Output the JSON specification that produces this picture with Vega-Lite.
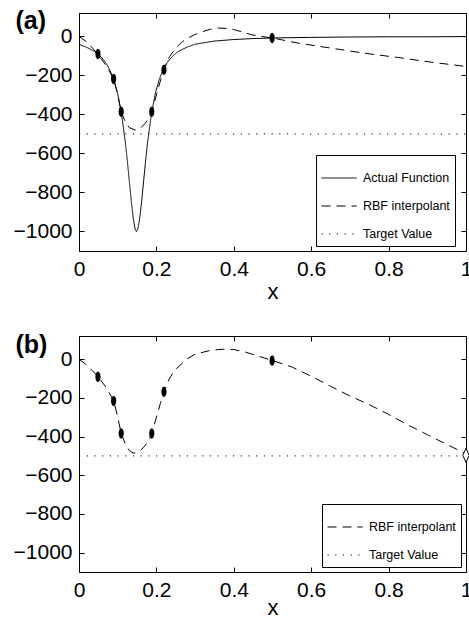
{
  "$schema": "https://vega.github.io/schema/vega-lite/v6.json",
  "padding": {"left": 13, "top": 8, "right": 0, "bottom": 0},
  "spacing": 30,
  "config": {
    "font": "Liberation Sans",
    "view": {"stroke": null},
    "axis": {
      "domainColor": "black", "domainWidth": 1, "tickColor": "black", "tickWidth": 1,
      "tickSize": -5, "labelPadding": 12, "labelFontSize": 21, "labelColor": "black",
      "labelFont": "Liberation Sans", "grid": false, "labelFlush": false, "labelOverlap": false,
      "titleColor": "black", "titleFont": "Liberation Sans"
    },
    "legend": {
      "title": null, "orient": "none", "symbolType": "stroke", "symbolSize": 1225,
      "symbolStrokeWidth": 1, "symbolStrokeColor": "black", "labelFontSize": 12.5,
      "labelColor": "black", "labelFont": "Liberation Sans", "strokeColor": "black",
      "fillColor": "white", "padding": 5, "rowPadding": 3, "labelOffset": 6, "cornerRadius": 0
    }
  },
  "resolve": {"scale": {"x": "independent", "y": "independent", "strokeDash": "independent"}, "legend": {"strokeDash": "independent"}},
  "datasets": {
    "a_lines": [
      {"series": "Actual Function", "x": 0, "y": -41}, {"series": "Actual Function", "x": 0.02, "y": -56},
      {"series": "Actual Function", "x": 0.04, "y": -77}, {"series": "Actual Function", "x": 0.05, "y": -92},
      {"series": "Actual Function", "x": 0.06, "y": -111}, {"series": "Actual Function", "x": 0.07, "y": -137},
      {"series": "Actual Function", "x": 0.08, "y": -173}, {"series": "Actual Function", "x": 0.09, "y": -223},
      {"series": "Actual Function", "x": 0.1, "y": -294}, {"series": "Actual Function", "x": 0.11, "y": -398},
      {"series": "Actual Function", "x": 0.12, "y": -547}, {"series": "Actual Function", "x": 0.125, "y": -640},
      {"series": "Actual Function", "x": 0.13, "y": -741}, {"series": "Actual Function", "x": 0.135, "y": -843},
      {"series": "Actual Function", "x": 0.14, "y": -931}, {"series": "Actual Function", "x": 0.145, "y": -988},
      {"series": "Actual Function", "x": 0.1485, "y": -1000}, {"series": "Actual Function", "x": 0.152, "y": -988},
      {"series": "Actual Function", "x": 0.157, "y": -931}, {"series": "Actual Function", "x": 0.162, "y": -843},
      {"series": "Actual Function", "x": 0.167, "y": -741}, {"series": "Actual Function", "x": 0.172, "y": -640},
      {"series": "Actual Function", "x": 0.177, "y": -547}, {"series": "Actual Function", "x": 0.187, "y": -398},
      {"series": "Actual Function", "x": 0.197, "y": -294}, {"series": "Actual Function", "x": 0.207, "y": -223},
      {"series": "Actual Function", "x": 0.217, "y": -173}, {"series": "Actual Function", "x": 0.227, "y": -137},
      {"series": "Actual Function", "x": 0.237, "y": -111}, {"series": "Actual Function", "x": 0.247, "y": -92},
      {"series": "Actual Function", "x": 0.257, "y": -77}, {"series": "Actual Function", "x": 0.28, "y": -54},
      {"series": "Actual Function", "x": 0.3, "y": -40}, {"series": "Actual Function", "x": 0.35, "y": -24},
      {"series": "Actual Function", "x": 0.4, "y": -16}, {"series": "Actual Function", "x": 0.45, "y": -11},
      {"series": "Actual Function", "x": 0.5, "y": -8}, {"series": "Actual Function", "x": 0.6, "y": -5},
      {"series": "Actual Function", "x": 0.7, "y": -3}, {"series": "Actual Function", "x": 0.8, "y": -2},
      {"series": "Actual Function", "x": 0.9, "y": -2}, {"series": "Actual Function", "x": 1, "y": -1},
      {"series": "RBF interpolant", "x": 0, "y": 0}, {"series": "RBF interpolant", "x": 0.02, "y": -28},
      {"series": "RBF interpolant", "x": 0.035, "y": -60}, {"series": "RBF interpolant", "x": 0.049, "y": -91},
      {"series": "RBF interpolant", "x": 0.07, "y": -150}, {"series": "RBF interpolant", "x": 0.09, "y": -219},
      {"series": "RBF interpolant", "x": 0.1, "y": -300}, {"series": "RBF interpolant", "x": 0.109, "y": -386},
      {"series": "RBF interpolant", "x": 0.12, "y": -440}, {"series": "RBF interpolant", "x": 0.13, "y": -468},
      {"series": "RBF interpolant", "x": 0.145, "y": -480}, {"series": "RBF interpolant", "x": 0.16, "y": -468},
      {"series": "RBF interpolant", "x": 0.17, "y": -448}, {"series": "RBF interpolant", "x": 0.18, "y": -420},
      {"series": "RBF interpolant", "x": 0.188, "y": -386}, {"series": "RBF interpolant", "x": 0.2, "y": -300},
      {"series": "RBF interpolant", "x": 0.21, "y": -230}, {"series": "RBF interpolant", "x": 0.2195, "y": -171},
      {"series": "RBF interpolant", "x": 0.234, "y": -103}, {"series": "RBF interpolant", "x": 0.25, "y": -60},
      {"series": "RBF interpolant", "x": 0.265, "y": -30}, {"series": "RBF interpolant", "x": 0.28, "y": -10},
      {"series": "RBF interpolant", "x": 0.3, "y": 10}, {"series": "RBF interpolant", "x": 0.32, "y": 25},
      {"series": "RBF interpolant", "x": 0.34, "y": 37}, {"series": "RBF interpolant", "x": 0.36, "y": 43},
      {"series": "RBF interpolant", "x": 0.38, "y": 41}, {"series": "RBF interpolant", "x": 0.4, "y": 35},
      {"series": "RBF interpolant", "x": 0.42, "y": 24}, {"series": "RBF interpolant", "x": 0.445, "y": 9},
      {"series": "RBF interpolant", "x": 0.47, "y": 0}, {"series": "RBF interpolant", "x": 0.5, "y": -8},
      {"series": "RBF interpolant", "x": 0.565, "y": -34}, {"series": "RBF interpolant", "x": 0.651, "y": -60},
      {"series": "RBF interpolant", "x": 0.737, "y": -86}, {"series": "RBF interpolant", "x": 0.824, "y": -108},
      {"series": "RBF interpolant", "x": 0.91, "y": -132}, {"series": "RBF interpolant", "x": 1, "y": -154},
      {"series": "Target Value", "x": 0, "y": -500}, {"series": "Target Value", "x": 1, "y": -500}
    ],
    "a_pts": [
      {"x": 0.049, "y": -90}, {"x": 0.0895, "y": -218}, {"x": 0.109, "y": -386},
      {"x": 0.188, "y": -386}, {"x": 0.2195, "y": -171}, {"x": 0.499, "y": -8}
    ],
    "b_lines": [
      {"series": "RBF interpolant", "x": 0, "y": 0}, {"series": "RBF interpolant", "x": 0.02, "y": -30},
      {"series": "RBF interpolant", "x": 0.035, "y": -60}, {"series": "RBF interpolant", "x": 0.049, "y": -90},
      {"series": "RBF interpolant", "x": 0.07, "y": -145}, {"series": "RBF interpolant", "x": 0.09, "y": -216},
      {"series": "RBF interpolant", "x": 0.1, "y": -300}, {"series": "RBF interpolant", "x": 0.109, "y": -383},
      {"series": "RBF interpolant", "x": 0.12, "y": -440}, {"series": "RBF interpolant", "x": 0.13, "y": -472},
      {"series": "RBF interpolant", "x": 0.14, "y": -485}, {"series": "RBF interpolant", "x": 0.15, "y": -483},
      {"series": "RBF interpolant", "x": 0.16, "y": -470}, {"series": "RBF interpolant", "x": 0.17, "y": -448},
      {"series": "RBF interpolant", "x": 0.18, "y": -420}, {"series": "RBF interpolant", "x": 0.188, "y": -383},
      {"series": "RBF interpolant", "x": 0.2, "y": -300}, {"series": "RBF interpolant", "x": 0.21, "y": -230},
      {"series": "RBF interpolant", "x": 0.2195, "y": -167}, {"series": "RBF interpolant", "x": 0.233, "y": -103},
      {"series": "RBF interpolant", "x": 0.246, "y": -60}, {"series": "RBF interpolant", "x": 0.264, "y": -26},
      {"series": "RBF interpolant", "x": 0.28, "y": 3}, {"series": "RBF interpolant", "x": 0.3, "y": 26},
      {"series": "RBF interpolant", "x": 0.334, "y": 43}, {"series": "RBF interpolant", "x": 0.36, "y": 50},
      {"series": "RBF interpolant", "x": 0.38, "y": 52}, {"series": "RBF interpolant", "x": 0.4, "y": 50},
      {"series": "RBF interpolant", "x": 0.43, "y": 37}, {"series": "RBF interpolant", "x": 0.46, "y": 18},
      {"series": "RBF interpolant", "x": 0.5, "y": -7}, {"series": "RBF interpolant", "x": 0.55, "y": -40},
      {"series": "RBF interpolant", "x": 0.6, "y": -88}, {"series": "RBF interpolant", "x": 0.65, "y": -140},
      {"series": "RBF interpolant", "x": 0.7, "y": -190}, {"series": "RBF interpolant", "x": 0.75, "y": -235},
      {"series": "RBF interpolant", "x": 0.8, "y": -285}, {"series": "RBF interpolant", "x": 0.85, "y": -340},
      {"series": "RBF interpolant", "x": 0.9, "y": -390}, {"series": "RBF interpolant", "x": 0.95, "y": -440},
      {"series": "RBF interpolant", "x": 1, "y": -490},
      {"series": "Target Value", "x": 0, "y": -500}, {"series": "Target Value", "x": 1, "y": -500}
    ],
    "b_pts": [
      {"x": 0.049, "y": -91}, {"x": 0.0895, "y": -216}, {"x": 0.109, "y": -384},
      {"x": 0.188, "y": -384}, {"x": 0.2195, "y": -168}, {"x": 0.499, "y": -7}
    ],
    "b_new": [{"x": 1, "y": -497}]
  },
  "vconcat": [
    {
      "width": 387, "height": 238,
      "resolve": {"axis": {"x": "independent", "y": "independent"}},
      "layer": [
        {
          "data": {"name": "a_lines"},
          "mark": {"type": "line", "color": "black", "strokeWidth": 1},
          "encoding": {
            "x": {"field": "x", "type": "quantitative", "scale": {"domain": [0, 1], "nice": false, "zero": false},
              "axis": {"orient": "bottom", "values": [0, 0.2, 0.4, 0.6, 0.8, 1], "format": "~g", "title": "x", "titleY": 47,
                "titleBaseline": "alphabetic", "titleFontSize": 22, "titleFontWeight": "normal"}},
            "y": {"field": "y", "type": "quantitative", "scale": {"domain": [-1100, 120], "nice": false, "zero": false},
              "axis": {"orient": "left", "values": [-1000, -800, -600, -400, -200, 0], "format": "d", "title": "(a)", "titleAngle": 0,
                "titleX": -64, "titleY": 15, "titleAlign": "left", "titleBaseline": "alphabetic",
                "titleFontSize": 25, "titleFontWeight": "bold"}},
            "strokeDash": {"field": "series", "type": "nominal",
              "scale": {"domain": ["Actual Function", "RBF interpolant", "Target Value"], "range": [[1, 0], [9, 6], [1.2, 6.5]]},
              "legend": {"legendX": 237, "legendY": 142}}
          }
        },
        {
          "data": {"name": "a_pts"},
          "mark": {"type": "point", "shape": "M0,-1L0.25,-0.87L0.43,-0.5L0.5,0L0.43,0.5L0.25,0.87L0,1L-0.25,0.87L-0.43,0.5L-0.5,0L-0.43,-0.5L-0.25,-0.87Z",
            "filled": true, "color": "black", "opacity": 1, "size": 110},
          "encoding": {
            "x": {"field": "x", "type": "quantitative", "scale": {"domain": [0, 1], "nice": false, "zero": false},
              "axis": {"orient": "top", "labels": false, "title": null, "values": [0, 0.2, 0.4, 0.6, 0.8, 1]}},
            "y": {"field": "y", "type": "quantitative", "scale": {"domain": [-1100, 120], "nice": false, "zero": false},
              "axis": {"orient": "right", "labels": false, "title": null, "values": [-1000, -800, -600, -400, -200, 0]}}
          }
        }
      ]
    },
    {
      "width": 387, "height": 236,
      "resolve": {"axis": {"x": "independent", "y": "independent"}},
      "layer": [
        {
          "data": {"name": "b_lines"},
          "mark": {"type": "line", "color": "black", "strokeWidth": 1},
          "encoding": {
            "x": {"field": "x", "type": "quantitative", "scale": {"domain": [0, 1], "nice": false, "zero": false},
              "axis": {"orient": "bottom", "values": [0, 0.2, 0.4, 0.6, 0.8, 1], "format": "~g", "title": "x", "titleY": 42,
                "titleBaseline": "alphabetic", "titleFontSize": 22, "titleFontWeight": "normal"}},
            "y": {"field": "y", "type": "quantitative", "scale": {"domain": [-1100, 120], "nice": false, "zero": false},
              "axis": {"orient": "left", "values": [-1000, -800, -600, -400, -200, 0], "format": "d", "title": "(b)", "titleAngle": 0,
                "titleX": -64, "titleY": 16, "titleAlign": "left", "titleBaseline": "alphabetic",
                "titleFontSize": 25, "titleFontWeight": "bold"}},
            "strokeDash": {"field": "series", "type": "nominal",
              "scale": {"domain": ["RBF interpolant", "Target Value"], "range": [[9, 6], [1.2, 6.5]]},
              "legend": {"legendX": 243, "legendY": 168}}
          }
        },
        {
          "data": {"name": "b_pts"},
          "mark": {"type": "point", "shape": "M0,-1L0.25,-0.87L0.43,-0.5L0.5,0L0.43,0.5L0.25,0.87L0,1L-0.25,0.87L-0.43,0.5L-0.5,0L-0.43,-0.5L-0.25,-0.87Z",
            "filled": true, "color": "black", "opacity": 1, "size": 110},
          "encoding": {
            "x": {"field": "x", "type": "quantitative", "scale": {"domain": [0, 1], "nice": false, "zero": false},
              "axis": {"orient": "top", "labels": false, "title": null, "values": [0, 0.2, 0.4, 0.6, 0.8, 1]}},
            "y": {"field": "y", "type": "quantitative", "scale": {"domain": [-1100, 120], "nice": false, "zero": false},
              "axis": {"orient": "right", "labels": false, "title": null, "values": [-1000, -800, -600, -400, -200, 0]}}
          }
        },
        {
          "data": {"name": "b_new"},
          "mark": {"type": "point", "shape": "M0,-1L0.45,0L0,1L-0.45,0Z", "filled": true, "fill": "white",
            "stroke": "black", "strokeWidth": 1, "opacity": 1, "size": 200},
          "encoding": {
            "x": {"field": "x", "type": "quantitative", "axis": null},
            "y": {"field": "y", "type": "quantitative", "axis": null}
          }
        }
      ]
    }
  ]
}
